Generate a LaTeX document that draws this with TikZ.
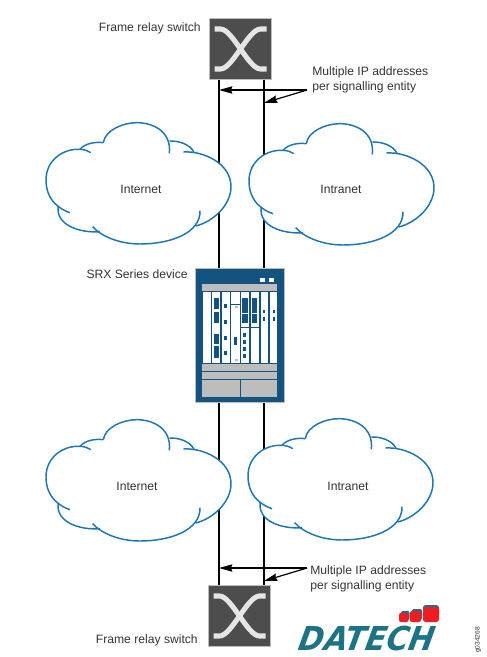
\documentclass[tikz,border=0pt]{standalone}
\usepackage{fontspec}
\setmainfont{Liberation Sans}
\newfontfamily\logofont{DejaVu Sans}
\usetikzlibrary{arrows.meta}
\usetikzlibrary{calc}

\definecolor{srxblue}{HTML}{14527F}
\definecolor{srxgrey}{HTML}{BDBDBD}
\definecolor{cloudblue}{HTML}{1C75B4}
\definecolor{swdark}{HTML}{4D4D4D}
\definecolor{datechteal}{HTML}{1B7385}
\definecolor{datechred}{HTML}{F01C24}

\tikzset{
  label/.style={text=black!80,font=\fontsize{9.1pt}{11.3pt}\selectfont,align=left,inner sep=0pt},
  wire/.style={black,line width=1pt},
  callout/.style={black,line width=.9pt,-{Stealth[length=10pt,width=5.5pt,inset=1pt]}},
  switchbox/.style={draw=srxgrey,fill=swdark,line width=.9pt,minimum size=46pt,inner sep=0pt,outer sep=0pt},
  srxbox/.style={draw=srxgrey,fill=srxblue,line width=.9pt,minimum width=67pt,minimum height=101pt,inner sep=0pt,outer sep=0pt},
  netcloud/.pic={
    \begin{scope}[x=.25pt,y=-.25pt]
    \fill[white] (85,258) .. controls (60,235) and (48,210) .. (48,180) .. controls (48,120) and (100,85) .. (150,88)
      .. controls (165,70) and (195,65) .. (220,68) .. controls (225,30) and (280,8) .. (320,8)
      .. controls (365,8) and (410,30) .. (418,63) .. controls (445,62) and (480,72) .. (492,97)
      .. controls (550,105) and (603,145) .. (603,200) .. controls (603,255) and (550,305) .. (497,318)
      .. controls (460,355) and (390,372) .. (330,372) .. controls (280,372) and (240,358) .. (210,335)
      .. controls (150,340) and (75,315) .. (85,258) -- cycle;
    \draw[cloudblue,line width=1.1pt] (120,278) .. controls (95,270) and (48,245) .. (48,180) .. controls (48,120) and (100,85) .. (150,88) .. controls (165,88) and (175,94) .. (182,98);
    \draw[cloudblue,line width=1.1pt] (150,88) .. controls (165,70) and (195,65) .. (220,68);
    \draw[cloudblue,line width=1.1pt] (220,68) .. controls (225,30) and (280,8) .. (320,8) .. controls (370,8) and (425,35) .. (418,100);
    \draw[cloudblue,line width=1.1pt] (418,63) .. controls (445,62) and (480,72) .. (492,97);
    \draw[cloudblue,line width=1.1pt] (460,96) .. controls (520,92) and (603,130) .. (603,200) .. controls (603,255) and (550,305) .. (497,318);
    \draw[cloudblue,line width=1.1pt] (510,272) .. controls (512,340) and (420,372) .. (330,372) .. controls (270,372) and (215,350) .. (188,320);
    \draw[cloudblue,line width=1.1pt] (210,335) .. controls (150,340) and (75,315) .. (85,258);
    \end{scope}
  },
  crossing/.pic={
    \draw[black!10,line width=3.8pt] (-26,-20) -- (-20,-20) .. controls (-8,-20) and (8,20) .. (20,20) -- (26,20);
    \draw[black!10,line width=3.8pt] (-26,20) -- (-20,20) .. controls (-8,20) and (8,-20) .. (20,-20) -- (26,-20);
  }
}

\begin{document}
\begin{tikzpicture}[x=.75pt,y=-.75pt]
\useasboundingbox (0,0) rectangle (486,657);

\coordinate (la) at (219,0);
\coordinate (lb) at (264,0);

% Switches and device
\node[switchbox] (swtop) at (240.5,49) {};
\node[switchbox] (swbot) at (239.5,616) {};
\node[srxbox] (srx) at (240,335.5) {};

\draw[wire] (la |- swtop.south) -- (la |- srx.north);
\draw[wire] (lb |- swtop.south) -- (lb |- srx.north);
\draw[wire] (la |- srx.south) -- (la |- swbot.north);
\draw[wire] (lb |- srx.south) -- (lb |- swbot.north);

\pic at (swtop.center) {crossing};
\pic at (swbot.center) {crossing};

% Clouds
\pic at (30,120) {netcloud};
\pic at (233,121) {netcloud};
\pic at (30,417) {netcloud};
\pic at (232,416) {netcloud};

\node[label] (inettop) at (141,189) {Internet};
\node[label] (intratop) at (341,189) {Intranet};
\node[label] (inetbot) at (137,486) {Internet};
\node[label] (intrabot) at (348,486) {Intranet};

% Labels
\node[label,anchor=east] (swtoplabel) at (201,28) {Frame relay switch};
\node[label,anchor=east] (swbotlabel) at (198,640) {Frame relay switch};
\node[label,anchor=east] (srxlabel) at (188,274) {SRX Series device};
\node[label,anchor=west] (multop) at (312,79.5) {Multiple IP addresses\\per signalling entity};
\node[label,anchor=west] (mulbot) at (310,579) {Multiple IP addresses\\per signalling entity};

% Arrows
\coordinate (arrtop) at (307,90);
\coordinate (arrbot) at (307,568);
\draw[callout] (arrtop) -- (la |- arrtop);
\draw[callout] (arrtop) -- (lb |- 0,103);
\draw[callout] (arrbot) -- (la |- arrbot);
\draw[callout] (arrbot) -- (lb |- 0,581);

% Inside of the device
\begin{scope}[shift={(180,260)},x=.25pt,y=-.25pt]
\fill[srxgrey] (67,72) rectangle (292,94);
\foreach \a/\b in {70/92,97/120,125/149,154/179,184/208,213/237,242/265,269/292}
  \fill[white] (\a,96) rectangle (\b,308);
\fill[srxgrey] (67,312) rectangle (292,333);
\fill[srxgrey] (67,336) rectangle (292,357);
\fill[srxgrey] (67,360) rectangle (179,412);
\fill[srxgrey] (184,360) rectangle (292,412);
\fill[white] (240,53) rectangle (254,65);
\fill[white] (268,53) rectangle (283,65);
\foreach \a/\b/\c/\d in {101/113/117/148,101/155/117/188,101/222/117/253,101/259/117/293,
    133/133/142/145,133/180/142/192,133/227/142/239,133/274/142/286,
    162/230/170/255,187/113/203/158,187/162/203/188,190/218/198/230,190/240/198/252,190/262/198/272,190/283/198/294,
    216/113/232/158,216/162/232/188,249/150/256/160,249/172/256/182,278/150/285/160,278/172/285/182,
    154/131/179/134,184/201/208/204,213/201/237/204}
  \fill[srxblue] (\a,\b) rectangle (\c,\d);
\fill[srxgrey] (166,138) rectangle (173,144);
\fill[srxgrey] (166,297) rectangle (173,303);
\end{scope}

% Logo
\fill[datechteal,rounded corners=1.5pt] (401,611) rectangle (409.5,620);
\fill[datechteal,rounded corners=1.5pt] (412,609) rectangle (422,620);
\fill[datechteal,rounded corners=2pt] (423,605) rectangle (439,620);
\fill[datechred,rounded corners=1.5pt] (399,613) rectangle (408.5,622);
\fill[datechred,rounded corners=1.5pt] (410,611) rectangle (421,622);
\fill[datechred,rounded corners=2pt] (423,607) rectangle (439,622);
\node[text=datechteal,font=\logofont\bfseries\itshape\fontsize{24.7pt}{24.7pt}\selectfont,inner sep=0pt,xscale=.92,xslant=.2] (logo) at (367.5,639) {DATECH};
\node[rotate=90,font=\fontsize{5pt}{5pt}\selectfont,text=black!80,inner sep=0pt] (figid) at (478,640) {g034268};
\end{tikzpicture}
\end{document}
